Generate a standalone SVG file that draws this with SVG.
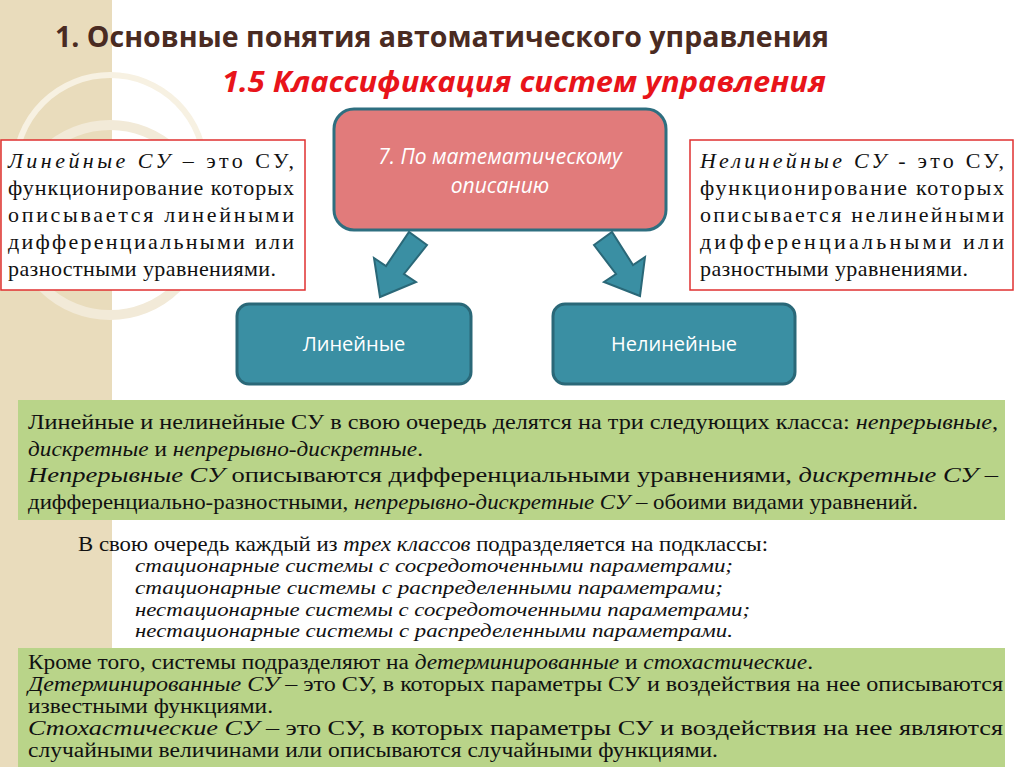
<svg xmlns="http://www.w3.org/2000/svg" width="1024" height="767" viewBox="0 0 1024 767">
<style>
.s{font-family:"Liberation Serif",serif;fill:#111}
.i{font-style:italic}
.w{font-family:"Open Sans","Liberation Sans",sans-serif;fill:#fff}
.rb{fill:#fff;stroke:#e03030;stroke-width:1.5}
.gb{fill:#b9d489}
.tb{fill:#3a8fa3;stroke:#2a6878;stroke-width:3}
</style>
<rect width="1024" height="767" fill="#fff"/>
<rect width="112" height="767" fill="#e9dcbc"/>
<circle cx="110" cy="170" r="95" fill="none" stroke="#f7f1e2" stroke-width="6"/>
<circle cx="110" cy="220" r="95" fill="none" stroke="#f2ead8" stroke-width="10"/>
<text x="55" y="47" font-family="Open Sans,Liberation Sans,sans-serif" font-weight="bold" font-size="29" fill="#4a2b22" textLength="774" lengthAdjust="spacingAndGlyphs">1. Основные понятия автоматического управления</text>
<text x="222" y="92" font-family="Open Sans,Liberation Sans,sans-serif" font-weight="bold" font-style="italic" font-size="28" fill="#e8141a" textLength="604" lengthAdjust="spacingAndGlyphs">1.5 Классификация систем управления</text>
<g id="top"><rect x="334" y="109" width="332" height="121" rx="20" fill="#e17b7b" stroke="#2e6f80" stroke-width="3"/>
<text class="w" x="500" y="164" font-size="21" font-style="italic" text-anchor="middle">7. По математическому</text>
<text class="w" x="500" y="193" font-size="21" font-style="italic" text-anchor="middle">описанию</text></g>
<g id="leftdef"><rect class="rb" x="1" y="140" width="304" height="150"/>
<text class="s" font-size="22"><tspan x="8" y="168" textLength="286"><tspan class="i">Линейные СУ</tspan> – это СУ,</tspan><tspan x="8" y="195" textLength="286">функционирование которых</tspan><tspan x="8" y="222" textLength="286">описывается линейными</tspan><tspan x="8" y="249" textLength="286">дифференциальными или</tspan><tspan x="8" y="276" textLength="268">разностными уравнениями.</tspan></text></g>
<g id="rightdef"><rect class="rb" x="690" y="140" width="323" height="150"/>
<text class="s" font-size="22"><tspan x="700" y="168" textLength="304"><tspan class="i">Нелинейные СУ</tspan> - это СУ,</tspan><tspan x="700" y="195" textLength="304">функционирование которых</tspan><tspan x="700" y="222" textLength="304">описывается нелинейными</tspan><tspan x="700" y="249" textLength="304">дифференциальными или</tspan><tspan x="700" y="276" textLength="268">разностными уравнениями.</tspan></text></g>
<g id="connectors" fill="#3a8fa3" stroke="#2a6878" stroke-width="2">
<polygon points="427,245 409,232 386,266 374,258 380,297 416,282 404,274"/>
<polygon points="594,245 612,232 633,265 645,257 640,296 604,282 616,274"/>
</g>
<g id="lin"><rect class="tb" x="237" y="304" width="234" height="80" rx="12"/><text class="w" x="354" y="351" font-size="20" text-anchor="middle">Линейные</text></g>
<g id="nonlin"><rect class="tb" x="553" y="304" width="242" height="80" rx="12"/><text class="w" x="674" y="351" font-size="20" text-anchor="middle">Нелинейные</text></g>
<rect class="gb" x="18" y="400" width="987" height="120"/>
<text class="s" font-size="22"><tspan x="28" y="429" textLength="970" lengthAdjust="spacingAndGlyphs">Линейные и нелинейные СУ в свою очередь делятся на три следующих класса: <tspan class="i">непрерывные</tspan>,</tspan><tspan x="28" y="456" textLength="395" lengthAdjust="spacingAndGlyphs"><tspan class="i">дискретные</tspan> и <tspan class="i">непрерывно-дискретные</tspan>.</tspan><tspan x="28" y="482" textLength="970" lengthAdjust="spacingAndGlyphs"><tspan class="i">Непрерывные СУ</tspan> описываются дифференциальными уравнениями, <tspan class="i">дискретные СУ</tspan> –</tspan><tspan x="28" y="509" textLength="890" lengthAdjust="spacingAndGlyphs">дифференциально-разностными, <tspan class="i">непрерывно-дискретные СУ</tspan> – обоими видами уравнений.</tspan></text>
<text class="s" font-size="21"><tspan x="78" y="551" textLength="690" lengthAdjust="spacingAndGlyphs">В свою очередь каждый из <tspan class="i">трех классов</tspan> подразделяется на подклассы:</tspan></text>
<text class="s i" font-size="19" fill="#222"><tspan x="135" y="572" textLength="598" lengthAdjust="spacingAndGlyphs">стационарные системы с сосредоточенными параметрами;</tspan><tspan x="135" y="594" textLength="588" lengthAdjust="spacingAndGlyphs">стационарные системы с распределенными параметрами;</tspan><tspan x="135" y="616" textLength="615" lengthAdjust="spacingAndGlyphs">нестационарные системы с сосредоточенными параметрами;</tspan><tspan x="135" y="637" textLength="598" lengthAdjust="spacingAndGlyphs">нестационарные системы с распределенными параметрами.</tspan></text>
<rect class="gb" x="18" y="648" width="987" height="119"/>
<text class="s" font-size="20"><tspan x="28" y="669" textLength="785" lengthAdjust="spacingAndGlyphs">Кроме того, системы подразделяют на <tspan class="i">детерминированные</tspan> и <tspan class="i">стохастические</tspan>.</tspan><tspan x="28" y="691" textLength="975" lengthAdjust="spacingAndGlyphs"><tspan class="i">Детерминированные СУ</tspan> – это СУ, в которых параметры СУ и воздействия на нее описываются</tspan><tspan x="28" y="713" textLength="245" lengthAdjust="spacingAndGlyphs">известными функциями.</tspan><tspan x="28" y="735" textLength="975" lengthAdjust="spacingAndGlyphs"><tspan class="i">Стохастические СУ</tspan> – это СУ, в которых параметры СУ и воздействия на нее являются</tspan><tspan x="28" y="757" textLength="690" lengthAdjust="spacingAndGlyphs">случайными величинами или описываются случайными функциями.</tspan></text>
</svg>
